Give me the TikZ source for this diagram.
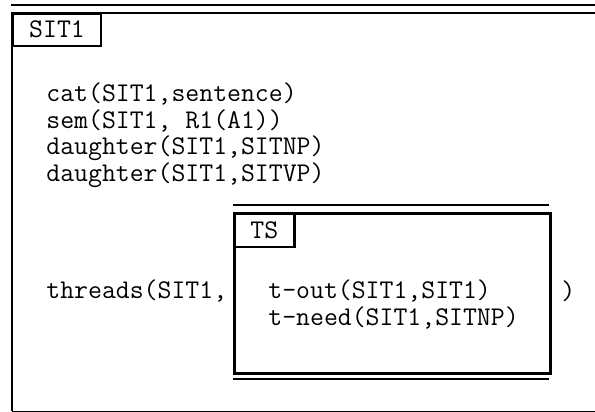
\documentclass[tikz,border=0pt]{standalone}
\usepackage{tikz}

\begin{document}
\begin{tikzpicture}[
    x=0.5pt, y=-0.5pt,
    frame_line/.style={line width=1pt},
    ts_line/.style={line width=1.4pt},
    tag_box/.style={draw,inner sep=0pt,anchor=north west,
      font=\ttfamily\fontsize{13.5}{14}\selectfont},
    code_line/.style={anchor=west,inner sep=0pt,
      font=\ttfamily\fontsize{13.5}{14}\selectfont}
  ]
  \useasboundingbox (0,0) rectangle (595,412);
  % outer situation frame (open on the right)
  \draw[frame_line] (11,5) -- (595,5);
  \draw[frame_line] (11,12.5) -- (595,12.5);
  \draw[frame_line] (12,12.5) -- (12,411);
  \draw[line width=0.5pt] (12,411) -- (595,411);
  \node[tag_box,frame_line,minimum width=44pt,minimum height=16.25pt] (sit) at (12,12.5) {SIT1};

  \node[code_line] (cat) at (46,94) {cat(SIT1,sentence)};
  \node[code_line] (sem) at (46,121) {sem(SIT1, R1(A1))};
  \node[code_line] (dnp) at (46,148) {daughter(SIT1,SITNP)};
  \node[code_line] (dvp) at (46,175) {daughter(SIT1,SITVP)};
  \node[code_line] (thr) at (46,291) {threads(SIT1,};

  % thread structure
  \draw[ts_line] (233,205) -- (549,205);
  \node[draw,ts_line,inner sep=0pt,anchor=north west,
    minimum width=158pt,minimum height=80pt] (ts) at (233,212) {};
  \draw[ts_line] (233,379) -- (549,379);
  \node[tag_box,ts_line,minimum width=30pt,minimum height=16.8pt] (tsl) at (ts.north west) {TS};
  \node[code_line] (tout) at (268,291) {t-out(SIT1,SIT1)};
  \node[code_line] (tneed) at (268,318) {t-need(SIT1,SITNP)};
  \node[code_line] (close) at (561,291) {)};
\end{tikzpicture}
\end{document}
